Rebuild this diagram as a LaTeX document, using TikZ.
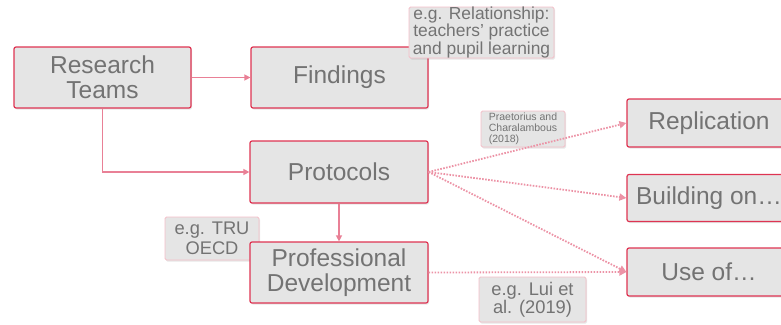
\documentclass[tikz,border=0pt]{standalone}
\usepackage{fontspec}
\setmainfont{Liberation Sans}
\usetikzlibrary{arrows.meta,shadows}
\definecolor{boxred}{RGB}{222,52,82}
\definecolor{boxfill}{RGB}{229,229,229}
\definecolor{boxtext}{RGB}{115,115,115}
\definecolor{linkpink}{RGB}{233,128,150}
\definecolor{notepink}{RGB}{244,190,200}
\begin{document}
\begin{tikzpicture}[x=1pt,y=-1pt,
  stage/.style={draw=boxred,line width=1.2pt,fill=boxfill,rounded corners=2pt,
    text=boxtext,align=center,inner sep=0pt,font=\fontsize{24.5}{25}\selectfont,
    drop shadow={opacity=0.2,shadow xshift=1pt,shadow yshift=-1.5pt}},
  note/.style={draw=notepink,line width=0.8pt,fill=boxfill,rounded corners=1.5pt,
    text=boxtext,align=center,inner sep=0pt,
    drop shadow={opacity=0.2,shadow xshift=1pt,shadow yshift=-1.5pt}},
  link/.style={draw=linkpink,line width=1.3pt,-{Triangle[length=6pt,width=6pt]}},
  hint/.style={draw=linkpink!85,line width=1.8pt,dash pattern=on 1.6pt off 1.4pt,
    -{Triangle[length=7pt,width=7pt]}}]
  \useasboundingbox (0,0) rectangle (781,324);
  % left column
  \node[stage,minimum width=177pt,minimum height=61pt] (teams) at (102.5,77.5) {Research\\Teams};
  \node[stage,minimum width=177pt,minimum height=61pt] (findings) at (339.5,77.5) {Findings};
  \node[stage,minimum width=178pt,minimum height=62pt] (protocols) at (339,172) {Protocols};
  \node[note,minimum width=94pt,minimum height=43pt,font=\fontsize{18.3}{20}\selectfont] (tru) at (212,238.5) {e.g. TRU\\OECD};
  \node[stage,minimum width=178pt,minimum height=61pt] (pd) at (339,272.5) {Professional\\Development};
  % right column
  \node[stage,minimum width=164pt,minimum height=48pt] (replication) at (709,123) {Replication};
  \node[stage,minimum width=164pt,minimum height=47pt] (building) at (709,198) {Building on\ldots};
  \node[stage,minimum width=164pt,minimum height=48pt] (useof) at (709,272) {Use of\ldots};
  % notes
  \node[note,minimum width=145pt,minimum height=51pt,font=\fontsize{17.4}{16}\selectfont] (rel) at (481.5,32.5)
    {e.g. Relationship:\\teachers’ practice\\and pupil learning};
  \node[note,minimum width=84pt,minimum height=36pt,align=left,font=\fontsize{10.5}{11}\selectfont] (praet) at (523,129)
    {Praetorius and\\Charalambous\\(2018)};
  \node[note,minimum width=107pt,minimum height=45pt,font=\fontsize{18.3}{18}\selectfont] (lui) at (532.5,299.5)
    {e.g. Lui et\\al. (2019)};
  % connectors
  \draw[link] (teams) -- (findings);
  \draw[link] (teams.south) |- (protocols.west);
  \draw[link] (protocols) -- (pd);
  \draw[hint] (protocols.east) -- (replication.west);
  \draw[hint] (protocols.east) -- (building.west);
  \draw[hint] (protocols.east) -- (useof.west);
  \draw[hint] (pd.east) -- (useof.west);
\end{tikzpicture}
\end{document}
